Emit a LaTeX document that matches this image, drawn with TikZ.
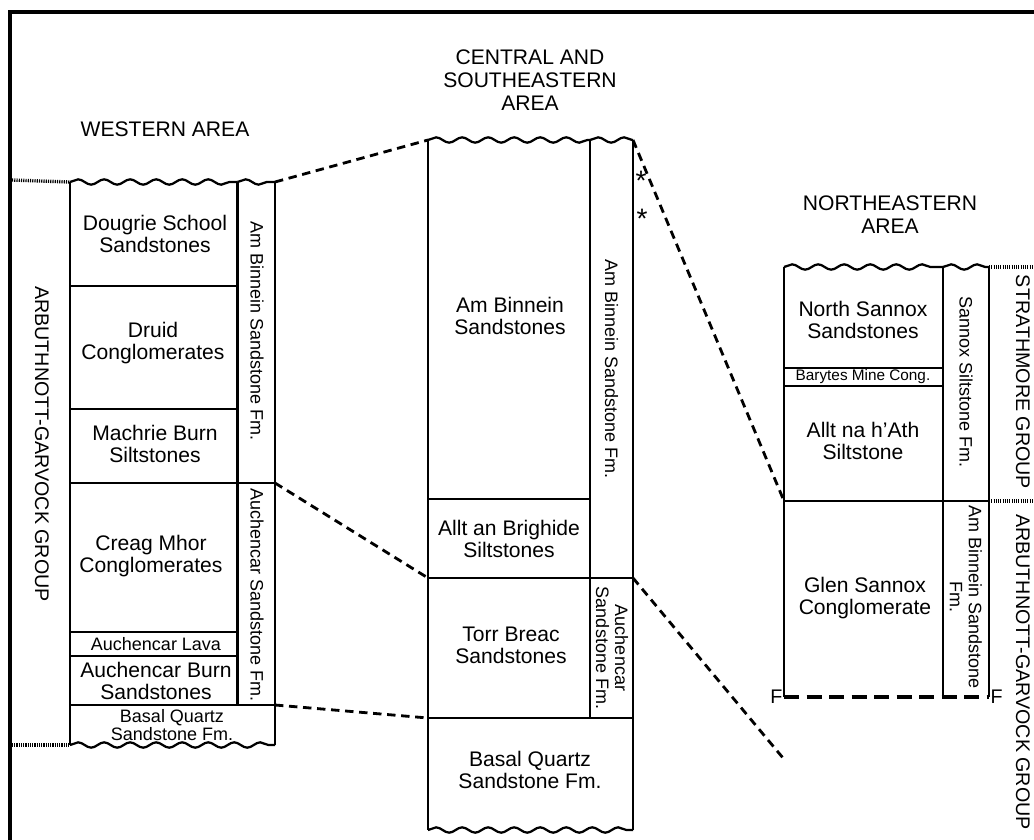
\documentclass[tikz,border=0pt]{standalone}
\usepackage{fontspec}
\setmainfont{Liberation Sans}
\usetikzlibrary{calc, positioning, decorations.pathmorphing}

\tikzset{
  layer/.style={font=\fontsize{15}{15.6}\selectfont, align=center, inner sep=0pt},
  smalllayer/.style={font=\fontsize{12.8}{13}\selectfont, align=center, inner sep=0pt},
  tinylayer/.style={font=\fontsize{10.9}{12}\selectfont, inner sep=0pt},
  fmlabel/.style={font=\fontsize{12.8}{13.5}\selectfont, align=center, rotate=-90, inner sep=0pt},
  grouplabel/.style={font=\fontsize{14}{16}\selectfont, rotate=-90, inner sep=0pt},
  areatitle/.style={font=\fontsize{15}{16.4}\selectfont, align=center, inner sep=0pt},
  starmark/.style={font=\fontsize{20}{20}\selectfont, inner sep=0pt},
  colline/.style={line width=2pt},
  bedline/.style={line width=1.4pt},
  unconf/.style={line width=1.6pt, decorate, decoration={snake, amplitude=1.9pt, segment length=18.5pt}},
  correl/.style={line width=2pt, dash pattern=on 6pt off 4pt},
  groupline/.style={line width=2.4pt, dash pattern=on 0.8pt off 0.8pt},
  fault/.style={line width=2.2pt, dash pattern=on 11pt off 5pt}
}

\begin{document}
\begin{tikzpicture}[x=0.025cm, y=-0.025cm]
    \useasboundingbox (0,0) rectangle (1034,840);
    % frame
    \draw[line width=2.6pt] (10,840) -- (10,12) -- (1034,12);

    % titles
    \node[areatitle] (westtitle) at (165,129) {WESTERN AREA};
    \node[areatitle] (centraltitle) at (530,80) {CENTRAL AND\\SOUTHEASTERN\\AREA};
    \node[areatitle] (northeasttitle) at (890,215) {NORTHEASTERN\\AREA};

    % western area column
    \coordinate (wTL) at (70,182);
    \coordinate (wTM) at (237.5,182);
    \coordinate (wTR) at (275,182);
    \coordinate (wBL) at (70,745);
    \coordinate (wBR) at (275,745);
    \draw[colline] (wTL) -- (wBL);
    \draw[colline] (wTR) -- (wBR);
    \draw[colline] (wTM) -- (237.5,705);
    \draw[unconf] (wTL) -- (wTM);
    \draw[unconf] (wTM) -- (wTR);
    \draw[unconf] (wBL) -- (wBR);
    \draw[bedline] (70,286) -- (237.5,286);
    \draw[bedline] (70,409) -- (237.5,409);
    \coordinate (wA) at (275,483);
    \draw[bedline] (70,483) -- (wA);
    \draw[bedline] (70,632) -- (237.5,632);
    \draw[bedline] (70,656) -- (237.5,656);
    \coordinate (wB) at (275,705);
    \draw[bedline] (70,705) -- (wB);
    \draw[groupline] (12,180) -- (wTL);
    \draw[groupline] (12,745) -- (wBL);

    \node[layer] (dougrie) at (155,234) {Dougrie School\\Sandstones};
    \node[layer] (druid) at (153,343) {Druid\\Conglomerates};
    \node[layer] (machrie) at (155,444) {Machrie Burn\\Siltstones};
    \node[layer] (creag) at (151,556) {Creag Mhor\\Conglomerates};
    \node[smalllayer] (lava) at (156,644) {Auchencar Lava};
    \node[layer] (auchburn) at (156,681) {Auchencar Burn\\Sandstones};
    \node[smalllayer] (wbasal) at (172,725) {Basal Quartz\\Sandstone Fm.};
    \node[fmlabel] (wambinnein) at (257,331) {Am Binnein Sandstone Fm.};
    \node[fmlabel] (wauchencar) at (257,595) {Auchencar Sandstone Fm.};
    \node[grouplabel] (wgroup) at (42,444) {ARBUTHNOTT-GARVOCK GROUP};

    % central and southeastern area column
    \coordinate (cTL) at (428,140);
    \coordinate (cTM) at (590,140);
    \coordinate (cTR) at (633,140);
    \coordinate (cBL) at (428,830);
    \coordinate (cBR) at (633,830);
    \draw[colline] (cTL) -- (cBL);
    \draw[colline] (cTR) -- (cBR);
    \draw[colline] (cTM) -- (590,718);
    \draw[unconf] (cTL) -- (cTM);
    \draw[unconf] (cTM) -- (cTR);
    \draw[unconf] (cBL) -- (cBR);
    \draw[bedline] (428,499) -- (590,499);
    \coordinate (cA) at (428,578);
    \coordinate (cAR) at (633,578);
    \draw[bedline] (cA) -- (cAR);
    \coordinate (cB) at (428,718);
    \draw[bedline] (cB) -- (633,718);

    \node[layer] (cambinnein) at (510,316) {Am Binnein\\Sandstones};
    \node[layer] (brighide) at (509,539) {Allt an Brighide\\Siltstones};
    \node[layer] (torr) at (511,645) {Torr Breac\\Sandstones};
    \node[layer] (cbasal) at (530,770) {Basal Quartz\\Sandstone Fm.};
    \node[fmlabel] (cambfm) at (611.5,369) {Am Binnein Sandstone Fm.};
    \node[fmlabel] (cauchfm) at (612,648) {Auchencar\\Sandstone Fm.};
    \node[starmark] (star1) at (641,181) {*};
    \node[starmark] (star2) at (642,219) {*};

    % northeastern area column
    \coordinate (nTL) at (784,267);
    \coordinate (nTM) at (943,267);
    \coordinate (nTR) at (989,267);
    \coordinate (nBL) at (784,697);
    \coordinate (nBR) at (989,697);
    \draw[colline] (nTL) -- (nBL);
    \draw[colline] (nTR) -- (nBR);
    \draw[colline] (nTM) -- (943,697);
    \draw[unconf] (nTL) -- (nTM);
    \draw[unconf] (nTM) -- (nTR);
    \draw[bedline] (784,368) -- (943,368);
    \draw[bedline] (784,386) -- (943,386);
    \coordinate (nA) at (784,501);
    \draw[bedline] (nA) -- (989,501);
    \draw[fault] (nBL) -- (nBR);
    \draw[groupline] (nTR) -- (1034,267);
    \draw[groupline] (989,501) -- (1034,501);
    \node[font=\fontsize{14}{14}\selectfont, inner sep=1pt, anchor=east] (faultW) at (nBL) {F};
    \node[font=\fontsize{14}{14}\selectfont, inner sep=1pt, anchor=west] (faultE) at (nBR) {F};

    \node[layer] (northsannox) at (863,320) {North Sannox\\Sandstones};
    \node[tinylayer] (barytes) at (863,377) {Barytes Mine Cong.};
    \node[layer] (alltna) at (863,441) {Allt na h’Ath\\Siltstone};
    \node[layer] (glensannox) at (865,598) {Glen Sannox\\Conglomerate};
    \node[fmlabel] (sannoxfm) at (966,382) {Sannox Siltstone Fm.};
    \node[fmlabel] (nambfm) at (966,597) {Am Binnein Sandstone\\Fm.};
    \node[grouplabel] (strathmore) at (1023,382) {STRATHMORE GROUP};
    \node[grouplabel] (ngroup) at (1023,672) {ARBUTHNOTT-GARVOCK GROUP};

    % correlation lines
    \coordinate (openend) at (783,758);
    \draw[correl] (wTR) -- (cTL);
    \draw[correl] (wA) -- (cA);
    \draw[correl] (wB) -- (cB);
    \draw[correl] (cTR) -- (nA);
    \draw[correl] (cAR) -- (openend);
\end{tikzpicture}
\end{document}
